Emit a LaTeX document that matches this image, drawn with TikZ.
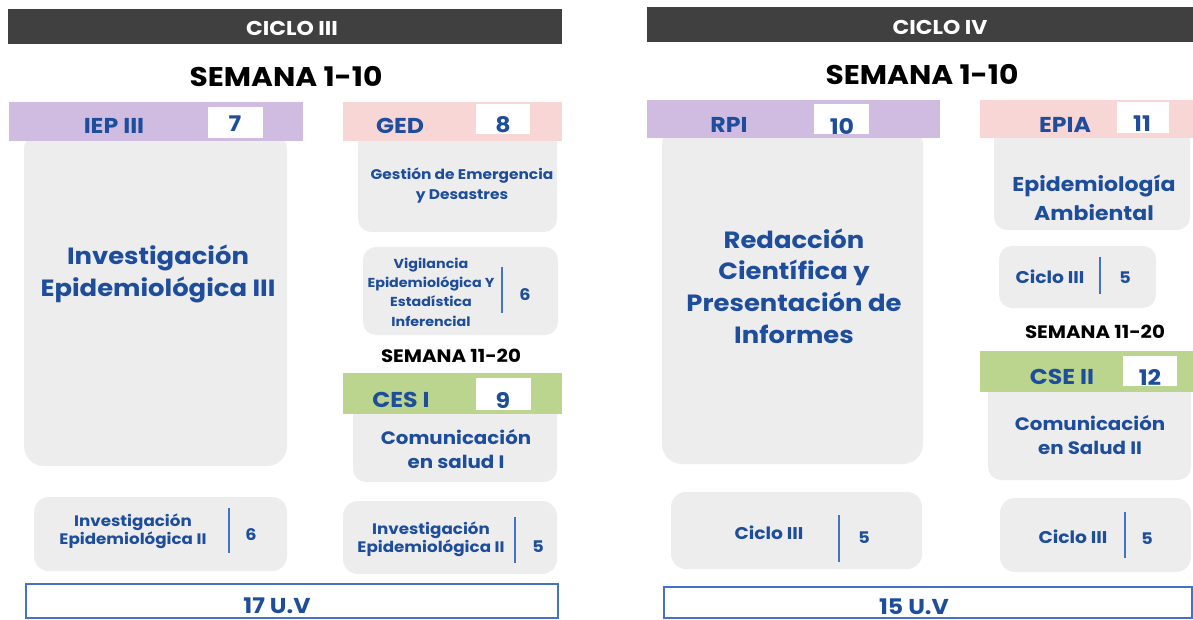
\documentclass[tikz,border=0pt]{standalone}
\usepackage{fontspec}
\setmainfont{Poppins}[FakeStretch=1.1]
\definecolor{barc}{RGB}{64,64,64}
\definecolor{purc}{RGB}{207,188,224}
\definecolor{pinc}{RGB}{248,214,213}
\definecolor{grnc}{RGB}{187,213,142}
\definecolor{gryc}{RGB}{237,237,237}
\definecolor{txtc}{RGB}{30,78,155}
\definecolor{divc}{RGB}{68,114,196}
\newcommand{\myfs}[2]{\fontsize{#1}{#2}\selectfont}
\begin{document}
\begin{tikzpicture}[x=1pt,y=-1pt,
  box/.style={inner sep=0pt, outer sep=0pt, anchor=north west},
  gbox/.style={box, fill=gryc, rounded corners=13pt},
  bigbox/.style={box, fill=gryc, rounded corners=20pt},
  bar/.style={box, fill=barc},
  hdr/.style={box},
  wbox/.style={box, fill=white},
  uvbox/.style={box, fill=white, draw=divc, line width=2pt},
  txt/.style={text=txtc, align=center, inner sep=0pt, font=\bfseries},
  ttl/.style={text=white, inner sep=0pt, font=\bfseries\myfs{20}{24}},
  sem/.style={text=black, inner sep=0pt, font=\bfseries\myfs{27}{32}},
  semsm/.style={text=black, inner sep=0pt, font=\bfseries\myfs{18}{22}},
  htxt/.style={txt, font=\bfseries\myfs{21.5}{24}},
  ntxt/.style={txt, font=\bfseries\myfs{16}{18}},
  divl/.style={draw=divc, line width=1.4pt}
]
\useasboundingbox (0,0) rectangle (1193,620);
\fill[white] (0,0) rectangle (1193,620);

%% ================= CICLO III =================
\node[bar, minimum width=554pt, minimum height=35pt] (bar1) at (8,9) {};
\node[ttl] (ttl1) at (292,28) {CICLO III};
\node[sem] (sem1) at (286,77) {SEMANA 1-10};

% IEP III
\node[bigbox, minimum width=263pt, minimum height=336pt] (big1) at (24,130) {};
\node[hdr, fill=purc, minimum width=294pt, minimum height=39pt] (h1) at (9,102) {};
\node[wbox, minimum width=55pt, minimum height=31pt] (w1) at (208,107) {};
\node[htxt] (h1t) at (114,126) {IEP III};
\node[htxt] (w1t) at (235,124) {7};
\node[txt, font=\bfseries\myfs{23.5}{32}] (big1t) at (158,274) {Investigación\\Epidemiológica III};

% GED
\node[gbox, minimum width=199pt, minimum height=102pt] (ged) at (358,130) {};
\node[hdr, fill=pinc, minimum width=219pt, minimum height=39pt] (h2) at (343,102) {};
\node[wbox, minimum width=54pt, minimum height=30pt] (w2) at (476,104) {};
\node[htxt] (h2t) at (400,126) {GED};
\node[htxt] (w2t) at (503,125) {8};
\node[txt, font=\bfseries\myfs{14}{20}] (gedt) at (462,186) {Gestión de Emergencia\\y Desastres};

% Vigilancia
\node[gbox, minimum width=195pt, minimum height=88pt] (vig) at (363,247) {};
\node[txt, font=\bfseries\myfs{13}{19.3}] (vigt) at (431,292) {Vigilancia\\Epidemiológica Y\\Estadística\\Inferencial};
\coordinate (vigd1) at (502,267);
\coordinate (vigd2) at (502,313);
\draw[divl] (vigd1) -- (vigd2);
\node[ntxt] (vign) at (525,295) {6};

\node[semsm] (sem2) at (451,356) {SEMANA 11-20};

% CES I
\node[gbox, minimum width=204pt, minimum height=82pt] (ces) at (353,400) {};
\node[hdr, fill=grnc, minimum width=219pt, minimum height=41pt] (h3) at (343,373) {};
\node[wbox, minimum width=55pt, minimum height=32pt] (w3) at (476,378) {};
\node[htxt] (h3t) at (401,400) {CES I};
\node[htxt] (w3t) at (503,400) {9};
\node[txt, font=\bfseries\myfs{18}{24}] (cest) at (456,449) {Comunicación\\en salud I};

% bottom left
\node[gbox, rounded corners=15pt, minimum width=253pt, minimum height=74pt] (bl1) at (34,497) {};
\node[txt, font=\bfseries\myfs{15.2}{17.5}] (bl1t) at (133,531) {Investigación\\Epidemiológica II};
\coordinate (bl1d1) at (229,508);
\coordinate (bl1d2) at (229,553);
\draw[divl] (bl1d1) -- (bl1d2);
\node[ntxt] (bl1n) at (251,535) {6};

% bottom right
\node[gbox, rounded corners=15pt, minimum width=214pt, minimum height=73pt] (br1) at (343,501) {};
\node[txt, font=\bfseries\myfs{15.2}{17.5}] (br1t) at (431,539) {Investigación\\Epidemiológica II};
\coordinate (br1d1) at (515,517);
\coordinate (br1d2) at (515,563);
\draw[divl] (br1d1) -- (br1d2);
\node[ntxt] (br1n) at (538,547) {5};

% total
\node[uvbox, minimum width=532pt, minimum height=34pt] (uv1) at (26,584) {};
\node[txt, font=\bfseries\myfs{21.5}{24}] (uv1t) at (277,606) {17 U.V};

%% ================= CICLO IV =================
\node[bar, minimum width=546pt, minimum height=35pt] (bar2) at (647,7) {};
\node[ttl] (ttl2) at (940,27) {CICLO IV};
\node[sem] (sem3) at (922,75) {SEMANA 1-10};

% RPI
\node[bigbox, minimum width=261pt, minimum height=339pt] (big2) at (662,125) {};
\node[hdr, fill=purc, minimum width=293pt, minimum height=38pt] (h4) at (647,100) {};
\node[wbox, minimum width=55pt, minimum height=30pt] (w4) at (814,104) {};
\node[htxt] (h4t) at (729,125) {RPI};
\node[htxt] (w4t) at (842,126) {10};
\node[txt, font=\bfseries\myfs{23.5}{31.7}] (big2t) at (794,286) {Redacción\\Científica y\\Presentación de\\Informes};

% EPIA
\node[gbox, minimum width=196pt, minimum height=105pt] (epia) at (994,125) {};
\node[hdr, fill=pinc, minimum width=213pt, minimum height=38pt] (h5) at (980,100) {};
\node[wbox, minimum width=52pt, minimum height=31pt] (w5) at (1117,102) {};
\node[htxt] (h5t) at (1065,125) {EPIA};
\node[htxt] (w5t) at (1142,124) {11};
\node[txt, font=\bfseries\myfs{20}{29}] (epiat) at (1094,198) {Epidemiología\\Ambiental};

% Ciclo III small
\node[gbox, minimum width=157pt, minimum height=62pt] (c3) at (999,246) {};
\node[txt, font=\bfseries\myfs{17}{20}] (c3t) at (1050,277) {Ciclo III};
\coordinate (c3d1) at (1100,257);
\coordinate (c3d2) at (1100,294);
\draw[divl] (c3d1) -- (c3d2);
\node[ntxt] (c3n) at (1125,278) {5};

\node[semsm] (sem4) at (1095,332) {SEMANA 11-20};

% CSE II
\node[gbox, minimum width=203pt, minimum height=100pt] (cse) at (988,380) {};
\node[hdr, fill=grnc, minimum width=213pt, minimum height=41pt] (h6) at (980,351) {};
\node[wbox, minimum width=54pt, minimum height=30pt] (w6) at (1123,356) {};
\node[htxt] (h6t) at (1062,377) {CSE II};
\node[htxt] (w6t) at (1150,377) {12};
\node[txt, font=\bfseries\myfs{18}{24}] (cset) at (1090,435) {Comunicación\\en Salud II};

% bottom left
\node[gbox, rounded corners=15pt, minimum width=251pt, minimum height=77pt] (bl2) at (671,492) {};
\node[txt, font=\bfseries\myfs{17}{20}] (bl2t) at (769,533) {Ciclo III};
\coordinate (bl2d1) at (839,515);
\coordinate (bl2d2) at (839,562);
\draw[divl] (bl2d1) -- (bl2d2);
\node[ntxt] (bl2n) at (864,538) {5};

% bottom right
\node[gbox, rounded corners=15pt, minimum width=191pt, minimum height=74pt] (br2) at (1000,498) {};
\node[txt, font=\bfseries\myfs{17}{20}] (br2t) at (1073,537) {Ciclo III};
\coordinate (br2d1) at (1125,512);
\coordinate (br2d2) at (1125,558);
\draw[divl] (br2d1) -- (br2d2);
\node[ntxt] (br2n) at (1147,539) {5};

% total
\node[uvbox, minimum width=528pt, minimum height=31pt] (uv2) at (664,587) {};
\node[txt, font=\bfseries\myfs{21.5}{24}] (uv2t) at (914,607) {15 U.V};
\end{tikzpicture}
\end{document}
